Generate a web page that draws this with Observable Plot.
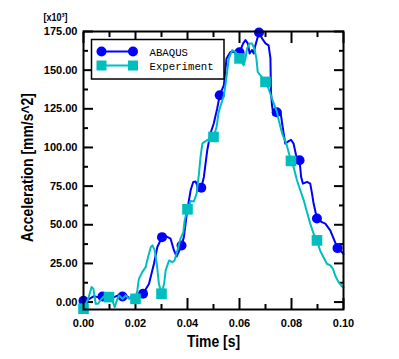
<!DOCTYPE html>
<html><head><meta charset="utf-8">
<script src="https://cdn.jsdelivr.net/npm/d3@7"></script>
<script src="https://cdn.jsdelivr.net/npm/@observablehq/plot@0.6"></script>
<style>body{margin:0;background:#fff}</style>
</head><body><div id="chart"></div>
<script>
// ---- data (time in s, acceleration in 10^3 mm/s^2) ----
const abaqusT = [0,0.002,0.004,0.0055,0.0073,0.0095,0.0118,0.0135,0.015,0.0165,0.018,0.0207,0.0229,0.0252,0.0271,0.0284,0.0302,0.0318,0.0335,0.0348,0.0358,0.0377,0.0386,0.0399,0.0412,0.0422,0.0431,0.044,0.0453,0.0463,0.0476,0.0488,0.0501,0.0514,0.0524,0.054,0.055,0.0565,0.0578,0.06,0.0614,0.0623,0.0632,0.0639,0.0648,0.0655,0.0661,0.0675,0.0687,0.07,0.0712,0.0719,0.0721,0.0725,0.0731,0.0743,0.0757,0.0764,0.077,0.0776,0.0785,0.0798,0.0808,0.0819,0.0831,0.0837,0.0844,0.086,0.0872,0.0879,0.0885,0.0898,0.0917,0.093,0.0949,0.0962,0.0977,0.0994,0.1];
const abaqusV = [0.8,1.8,3.8,3.2,3.6,3.6,3.2,4.5,3.6,3.8,2.4,3.2,5.4,11.8,24.8,35.6,42,42.5,41,33.4,29.5,36.6,42,59.3,72.3,77.7,78,74.4,74,80.9,98.2,109,115.5,125,133.8,140.3,157.6,161.8,161.8,161.5,167.3,169.4,167.3,160.8,163,160.8,166,174.4,170.5,167.3,166,157.6,136,127.3,120.8,122.8,124,115.5,109,102.5,103.6,105,102.5,93.8,91.7,80.9,76.6,77.7,76.6,70.1,63.7,54,51.7,50.7,46.4,41,34.9,32.3,31];
const abaqusMarkT = [0,0.0073,0.015,0.0229,0.0302,0.0377,0.0453,0.0524,0.06,0.0675,0.0743,0.0831,0.0898,0.0977];
const abaqusMarkV = [0.8,3.6,3.6,5.4,42,36.6,74,133.8,161.5,174.4,122.8,91.7,54,34.9];

const expT = [0,0.0018,0.0031,0.0038,0.0047,0.0056,0.0066,0.0078,0.0098,0.0111,0.012,0.0128,0.0137,0.015,0.0162,0.0175,0.0188,0.02,0.0207,0.0213,0.0226,0.0239,0.0248,0.0259,0.0265,0.0274,0.0282,0.029,0.03,0.031,0.0316,0.0329,0.0342,0.035,0.0361,0.0373,0.0384,0.0389,0.04,0.0412,0.0424,0.0435,0.0444,0.045,0.0457,0.0465,0.0476,0.05,0.0512,0.052,0.054,0.0546,0.0559,0.0572,0.0584,0.06,0.0616,0.0623,0.0629,0.0639,0.0648,0.0657,0.0665,0.067,0.068,0.07,0.0712,0.0725,0.0744,0.0751,0.0764,0.078,0.0798,0.0808,0.0821,0.0834,0.0847,0.086,0.0872,0.0885,0.0898,0.091,0.0923,0.0936,0.0949,0.0959,0.0968,0.0981,0.0994,0.1];
const expV = [-4.3,2.1,9.7,8.6,-1.1,-1.1,1.5,3.6,3.2,1,-3.3,1,4.3,2.1,4.3,2.1,4.3,2.1,7.5,15,19.4,22.6,29,35.6,36.7,33.4,24.8,11.8,5.4,11.8,20.5,26.9,25.8,26.9,33.4,41,45.3,52.8,60,65.3,65,70,83,93.8,102.5,103.6,104.7,106.8,113.3,123,133.8,140.3,157.6,163,161.8,157.6,153.2,157.6,164,167.3,167.3,164,157.6,148.9,146.8,142.4,138,131.6,123,117.6,109,102.5,91.3,87.4,78.8,72.3,65.8,58,50.7,44.2,39.9,33.4,29,24.8,23.7,21.6,17.2,12.9,10.1,9.5];
const expMarkT = [0,0.0098,0.02,0.03,0.04,0.05,0.06,0.07,0.0798,0.0898];
const expMarkV = [-4.3,3.2,2.1,5.4,60,106.8,157.6,142.4,91.3,39.9];

const seriesNames = ["ABAQUS", "Experiment"];
const seriesColors = ["#0000ff", "#00bebe"];

const xMajor = [0, 0.02, 0.04, 0.06, 0.08, 0.10];
const xMinor = [0.01, 0.03, 0.05, 0.07, 0.09];
const yMajor = [0, 25, 50, 75, 100, 125, 150, 175];
const yMinor = [12.5, 37.5, 62.5, 87.5, 112.5, 137.5, 162.5];

const xLabel = "Time [s]";
const yLabel = "Acceleration [mm/s^2]";
const yUnit = "[x10³]";

// ---- build ----
const zip = (T, V) => T.map((t, i) => ({t, v: V[i]}));
const abaqus = zip(abaqusT, abaqusV), abaqusMarks = zip(abaqusMarkT, abaqusMarkV);
const exper = zip(expT, expV), expMarks = zip(expMarkT, expMarkV);

const sans = "'Liberation Sans', Arial, Helvetica, sans-serif";
const fmt = d3.format(".2f");
const blank = () => "";

const plot = Plot.plot({
  width: 399, height: 359,
  marginLeft: 83, marginRight: 56, marginTop: 31, marginBottom: 50,
  x: {domain: [0, 0.1]},
  y: {domain: [-4.8, 175]},
  style: {background: "white", fontFamily: sans, color: "black"},
  marks: [
    // ticks pointing inward, on all four sides
    Plot.axisY(yMajor, {anchor: "left", tickSize: -10, strokeWidth: 2, tickFormat: blank, label: null}),
    Plot.axisY(yMinor, {anchor: "left", tickSize: -5, strokeWidth: 2, tickFormat: blank, label: null}),
    Plot.axisY(yMajor, {anchor: "right", tickSize: -10, strokeWidth: 2, tickFormat: blank, label: null}),
    Plot.axisY(yMinor, {anchor: "right", tickSize: -5, strokeWidth: 2, tickFormat: blank, label: null}),
    Plot.axisX(xMajor, {anchor: "bottom", tickSize: -11, strokeWidth: 2, tickFormat: blank, label: null}),
    Plot.axisX(xMinor, {anchor: "bottom", tickSize: -5, strokeWidth: 2, tickFormat: blank, label: null}),
    Plot.axisX(xMajor, {anchor: "top", tickSize: -11, strokeWidth: 2, tickFormat: blank, label: null}),
    Plot.axisX(xMinor, {anchor: "top", tickSize: -5, strokeWidth: 2, tickFormat: blank, label: null}),
    // tick labels
    Plot.axisY(yMajor, {anchor: "left", tickSize: 0, tickPadding: 6, tickFormat: fmt, label: null, fontSize: 11, fontWeight: "bold"}),
    Plot.axisX(xMajor, {anchor: "bottom", tickSize: 0, tickPadding: 10, tickFormat: fmt, label: null, fontSize: 11, fontWeight: "bold"}),
    // axis titles (condensed afterwards)
    Plot.text([yLabel], {text: d => d, frameAnchor: "left", textAnchor: "middle", dx: -56, dy: -3, rotate: -90, fontSize: 17, fontWeight: "bold", className: "narrow"}),
    Plot.text([xLabel], {text: d => d, frameAnchor: "bottom", textAnchor: "middle", dy: 37, fontSize: 17, fontWeight: "bold", className: "narrow"}),
    Plot.text([yUnit], {text: d => d, frameAnchor: "top-left", dx: -40, dy: -18, textAnchor: "start", fontSize: 11, fontWeight: "bold", className: "narrow"}),
    // series
    Plot.line(abaqus, {x: "t", y: "v", stroke: seriesColors[0], strokeWidth: 2}),
    Plot.dot(abaqusMarks, {x: "t", y: "v", r: 5, fill: seriesColors[0], stroke: "none"}),
    Plot.line(exper, {x: "t", y: "v", stroke: seriesColors[1], strokeWidth: 2}),
    Plot.dot(expMarks, {x: "t", y: "v", r: 6, symbol: "square", fill: seriesColors[1], stroke: "none"}),
    Plot.frame({stroke: "black", strokeWidth: 2})
  ]
});
document.getElementById("chart").appendChild(plot);

// condense the titles along their reading direction
d3.select(plot).selectAll(".narrow text").each(function() {
  const t = this.getAttribute("transform") || "";
  this.setAttribute("transform", t + " scale(0.82,1)");
});

// ---- legend (inside plot, top-left) ----
const svg = d3.select(plot);
const lg = svg.append("g").attr("transform", "translate(91.5,39.5)").style("text-anchor", "start");
lg.append("rect").attr("width", 132.5).attr("height", 39.5).attr("fill", "white").attr("stroke", "black").attr("stroke-width", 1.5);
const rows = [{y: 12, sym: "circle"}, {y: 26, sym: "square"}];
rows.forEach((r, i) => {
  const g = lg.append("g").attr("transform", `translate(0,${r.y})`);
  g.append("line").attr("x1", 10).attr("x2", 41.5).attr("y1", 0).attr("y2", 0).attr("stroke", seriesColors[i]).attr("stroke-width", 2);
  [10, 41.5].forEach(cx => {
    if (r.sym === "circle") g.append("circle").attr("cx", cx).attr("cy", 0).attr("r", 5).attr("fill", seriesColors[i]);
    else g.append("rect").attr("x", cx - 5).attr("y", -5).attr("width", 10).attr("height", 10).attr("fill", seriesColors[i]);
  });
  g.append("text").attr("x", 58).attr("y", 4)
    .style("font-family", "'Liberation Mono', 'DejaVu Sans Mono', monospace")
    .style("font-size", "10.7px").style("text-anchor", "start")
    .attr("fill", "black").text(seriesNames[i]);
});
</script>
</body></html>
